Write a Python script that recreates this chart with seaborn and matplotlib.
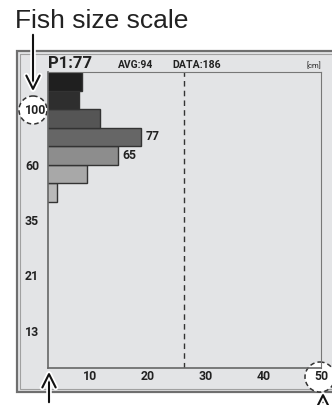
import matplotlib
matplotlib.use("Agg")
import matplotlib.pyplot as plt
import matplotlib.patheffects as pe
from matplotlib.patches import Rectangle, Circle
import seaborn as sns

# fish size histogram (rows counted from the bottom of the scale)
rows = [15.5, 14.5, 13.5, 12.5, 11.5, 10.5, 9.5]
counts = [8.6, 8.1, 11.7, 18.8, 14.8, 9.5, 4.3]
bar_colors = ['#1f1f1f', '#2e2e2e', '#555555', '#666666', '#8d8d8d', '#a8a8a8', '#b9b9b9']
bar_notes = {12.5: '77', 11.5: '65'}

size_ticks = [14, 11, 8, 5, 2]
size_labels = ['100', '60', '35', '21', '13']
count_ticks = [10, 20, 30, 40, 50]
count_labels = ['10', '20', '30', '40', '50']
avg_line = 26.3

W, H = 332, 405
sns.set_style("white")
plt.rcParams['font.family'] = ['Roboto', 'DejaVu Sans']

fig = plt.figure(figsize=(W / 100, H / 100), dpi=100)

# overlay in pixel coordinates (y down)
ov = fig.add_axes([0, 0, 1, 1])
ov.set_xlim(0, W)
ov.set_ylim(H, 0)
ov.axis('off')
ov.set_zorder(1)

ov.add_patch(Rectangle((16.5, 50.5), 330, 341, facecolor='#e3e4e6', edgecolor='#6f6f6f', lw=1.6))
ov.add_patch(Rectangle((19.5, 53.5), 330, 335, facecolor='none', edgecolor='#a0a0a0', lw=0.8))

ov.add_patch(Circle((33, 110), 14, facecolor='white', edgecolor='#333333', ls=(0, (3, 2)), lw=1.1))
ov.add_patch(Circle((320, 377), 15, facecolor='white', edgecolor='#333333', ls=(0, (3, 2)), lw=1.1))

halo = [pe.withStroke(linewidth=4, foreground='white')]
for x0, y0, y1 in [(33, 32, 94), (49, 405, 369), (323, 405, 390)]:
    ov.annotate('', xy=(x0, y1), xytext=(x0, y0),
                arrowprops=dict(arrowstyle='->, head_length=0.6, head_width=0.3', lw=1.5,
                                color='#111111', mutation_scale=16, path_effects=halo))

ov.text(15, 28, 'Fish size scale', fontsize=19, color='#222222',
        family=['Liberation Sans', 'DejaVu Sans'], va='baseline')
ov.text(48, 68, 'P1:77', fontsize=12, color='#222222', weight='bold', va='baseline')
ov.text(118, 68.5, 'AVG:94', fontsize=7.4, color='#222222', weight='bold', va='baseline')
ov.text(172, 68.5, 'DATA:186', fontsize=7.6, color='#222222', weight='bold', va='baseline')
ov.text(321, 68, '[cm]', fontsize=5.5, color='#222222', ha='right', va='baseline')

# main chart
ax = fig.add_axes([48 / W, (H - 368) / H, (321 - 48) / W, (368 - 72) / H])
ax.set_zorder(2)
ax.patch.set_alpha(0)

sns.barplot(x=counts, y=rows, orient='h', native_scale=True, width=1,
            errorbar=None, color='#555555', edgecolor='#333333', linewidth=1, ax=ax)
for p in ax.patches:
    yc = round(p.get_y() + p.get_height() / 2, 1)
    p.set_facecolor(bar_colors[rows.index(yc)])
    p.set_alpha(1)

for r, txt in bar_notes.items():
    ax.text(counts[rows.index(r)] + 0.8, r, txt, fontsize=8.8, weight='bold',
            color='#222222', va='center', ha='left')

ax.axvline(avg_line, color='#333333', lw=1, ls=(0, (4, 3)))

ax.set_xlim(2.73, 50)
ax.set_ylim(0, 16)
ax.set_xticks(count_ticks)
ax.set_xticklabels(count_labels)
ax.set_yticks(size_ticks)
ax.set_yticklabels(size_labels, ha='left')
ax.tick_params(axis='x', length=0, pad=1.5, labelsize=8.8, labelcolor='#222222')
ax.tick_params(axis='y', length=0, pad=16.6, labelsize=8.8, labelcolor='#222222')
for lab in ax.get_xticklabels() + ax.get_yticklabels():
    lab.set_fontweight('bold')
ax.set_xlabel('')
ax.set_ylabel('')

for side in ['left', 'bottom']:
    ax.spines[side].set_color('#666666')
    ax.spines[side].set_linewidth(1.2)
for side in ['top', 'right']:
    ax.spines[side].set_color('#777777')
    ax.spines[side].set_linewidth(0.8)

fig.savefig('out.png', dpi=100)
